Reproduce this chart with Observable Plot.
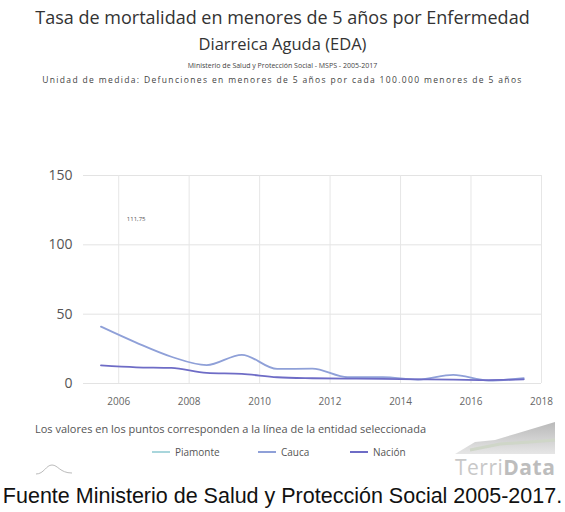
<!DOCTYPE html>
<html>
<head>
<meta charset="utf-8">
<script src="https://cdn.jsdelivr.net/npm/d3@7"></script>
<script src="https://cdn.jsdelivr.net/npm/@observablehq/plot@0.6"></script>
<style>
  html, body { margin: 0; padding: 0; background: #fff; }
  #wrap { position: relative; width: 565px; height: 512px; overflow: hidden; font-family: "Open Sans", "Noto Sans", sans-serif; }
  .abs { position: absolute; white-space: nowrap; }
  #t1 { top: 5px; left: 0; width: 565px; text-align: center; font-size: 18px; color: #333; }
  #t2 { top: 32px; left: 0; width: 565px; text-align: center; font-size: 16.5px; color: #333; }
  #s1 { top: 61px; left: 0; width: 565px; text-align: center; font-size: 7px; color: #444; }
  #s2 { top: 74px; left: 0; width: 565px; text-align: center; font-size: 8.5px; letter-spacing: 1.35px; color: #444; }
  #chart { top: 95px; left: 0; }
  #note { top: 421px; left: 35px; font-size: 11px; color: #555; }
  #legend { top: 445px; left: 152px; font-size: 10px; color: #555; }
  .item { position: absolute; top: 0; display: flex; align-items: center; }
  .sw { width: 18px; height: 2px; margin-right: 5px; }
  #logo { top: 453px; left: 455px; font-size: 21px; color: #c8c8c8; letter-spacing: 0.5px; }
  #logo b { color: #bdbdbd; }
  #caption { top: 484px; left: 0; width: 565px; text-align: center; font-family: "Liberation Sans", Arial, sans-serif; font-size: 21.5px; color: #111; }
</style>
</head>
<body>
<div id="wrap">
  <div class="abs" id="t1">Tasa de mortalidad en menores de 5 años por Enfermedad</div>
  <div class="abs" id="t2">Diarreica Aguda (EDA)</div>
  <div class="abs" id="s1">Ministerio de Salud y Protección Social - MSPS - 2005-2017</div>
  <div class="abs" id="s2">Unidad de medida: Defunciones en menores de 5 años por cada 100.000 menores de 5 años</div>
  <div class="abs" id="chart"></div>
  <div class="abs" id="note">Los valores en los puntos corresponden a la línea de la entidad seleccionada</div>
  <div class="abs" id="legend"></div>
  <svg class="abs" style="top:420px;left:450px" width="110" height="36">
    <defs><linearGradient id="mg" x1="0" x2="0" y1="0" y2="1"><stop offset="0" stop-color="#b9b9b9"/><stop offset="1" stop-color="#e6e6e6"/></linearGradient></defs>
    <path d="M5,34 L25,22 L45,20 L65,14 L85,8 L105,2 L105,34 Z" fill="url(#mg)"/>
    <path d="M20,30 L50,24 L80,22 L105,20" stroke="#cfd6c8" stroke-width="3" fill="none"/>
  </svg>
  <div class="abs" id="logo">Terri<b>Data</b></div>
  <svg class="abs" style="top:462px;left:34px" width="40" height="14">
    <path d="M2,12 C10,12 12,3 18,3 C24,3 26,11 38,11" stroke="#bbb" stroke-width="1" fill="none"/>
  </svg>
  <div class="abs" id="caption">Fuente Ministerio de Salud y Protección Social 2005-2017.</div>
</div>
<script>
const years = [2005, 2006, 2007, 2008, 2009, 2010, 2011, 2012, 2013, 2014, 2015, 2016, 2017];
const cauca = [41, 29.5, 19.3, 13.3, 20.7, 10.5, 10.7, 4.5, 4.5, 2.9, 6.2, 2.1, 3.8];
const nacion = [13, 11.7, 11.2, 7.6, 6.9, 4.5, 3.8, 3.5, 3.3, 3.0, 2.8, 2.5, 3.0];
const piamonteYear = [2006];
const piamonte = [111.75];
const piamonteLabels = ["111,75"];
const series = ["Piamonte", "Cauca", "Nación"];
const colors = ["#a9d6dc", "#8fa0d8", "#6e6cc6"];
const legendLeft = [0, 106, 198];
const yTicks = [0, 50, 100, 150];
const xTickYears = [2006, 2008, 2010, 2012, 2014, 2016, 2018];

const mid = y => new Date(y, 6, 1);
const rows = [];
years.forEach((y, i) => {
  rows.push({date: mid(y), value: cauca[i], serie: "Cauca"});
  rows.push({date: mid(y), value: nacion[i], serie: "Nación"});
});
const labelRows = piamonteYear.map((y, i) => ({date: mid(y), value: piamonte[i], label: piamonteLabels[i]}));

const chart = Plot.plot({
  width: 565,
  height: 318,
  marginLeft: 83,
  marginRight: 24,
  marginTop: 80,
  marginBottom: 30,
  style: {fontFamily: "'Open Sans', 'Noto Sans', sans-serif", background: "transparent"},
  x: {type: "time", domain: [new Date(2005, 0, 1), new Date(2018, 0, 1)]},
  y: {domain: [0, 150]},
  color: {domain: series, range: colors},
  marks: [
    Plot.gridY(yTicks, {stroke: "#e3e3e3", strokeOpacity: 1}),
    Plot.gridX(xTickYears.map(y => new Date(y, 0, 1)), {stroke: "#e6e6e6", strokeOpacity: 1}),
    Plot.axisY(yTicks, {tickSize: 0, tickPadding: 11, fontSize: 14, fill: "#555", label: null}),
    Plot.axisX(xTickYears.map(y => new Date(y, 0, 1)), {tickSize: 0, tickPadding: 14, fontSize: 10, fill: "#666", label: null, tickFormat: d3.timeFormat("%Y")}),
    Plot.line(rows, {x: "date", y: "value", stroke: "serie", strokeWidth: 1.8, curve: "monotone-x"}),
    Plot.text(labelRows, {x: "date", y: "value", text: "label", dy: -9, fontSize: 6, fill: "#555"})
  ]
});
document.getElementById("chart").appendChild(chart);

const legend = document.getElementById("legend");
series.forEach((s, i) => {
  const it = document.createElement("div");
  it.className = "item";
  it.style.left = legendLeft[i] + "px";
  const sw = document.createElement("div");
  sw.className = "sw";
  sw.style.background = colors[i];
  const tx = document.createElement("span");
  tx.textContent = s;
  it.appendChild(sw); it.appendChild(tx);
  legend.appendChild(it);
});
</script>
</body>
</html>
